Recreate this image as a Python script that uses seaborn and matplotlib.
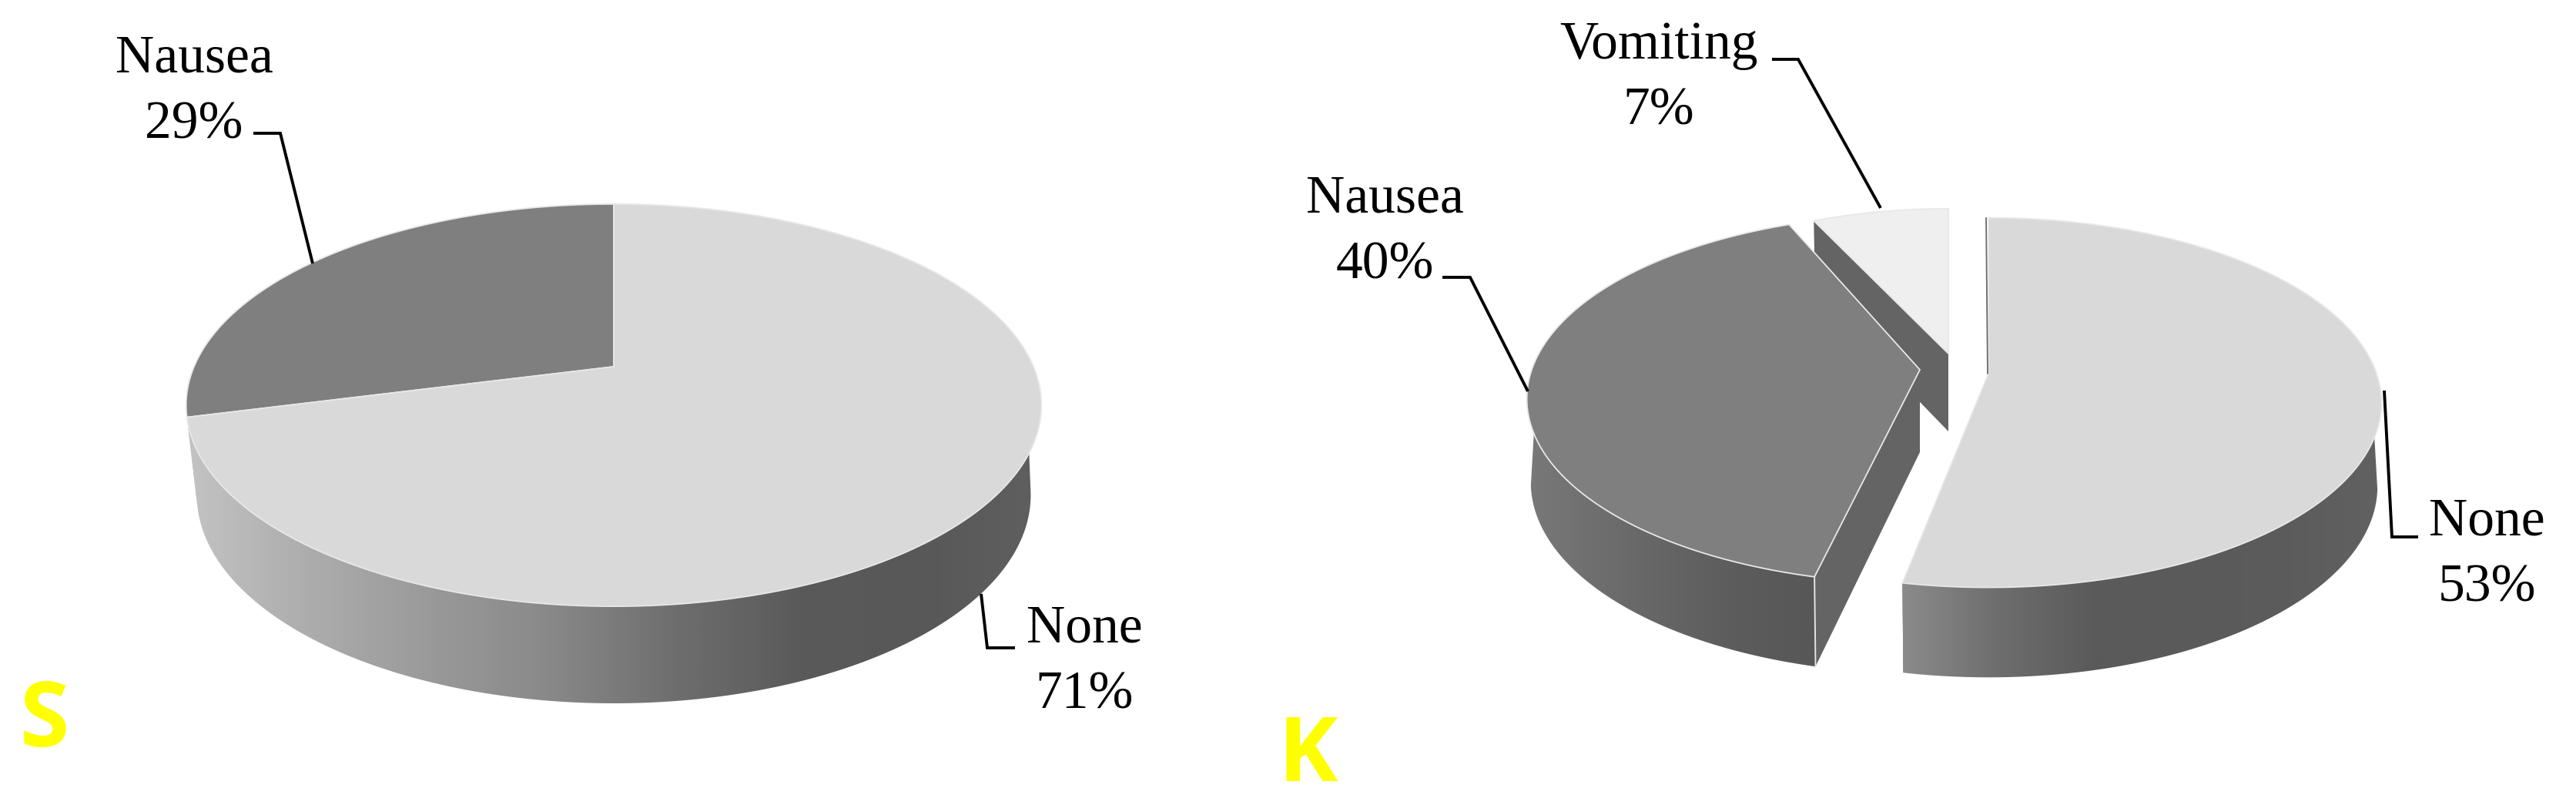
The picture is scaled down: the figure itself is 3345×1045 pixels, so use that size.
import numpy as np
import matplotlib
matplotlib.use('Agg')
import matplotlib.pyplot as plt
from matplotlib.patches import Polygon
import seaborn as sns

# data
labels_s = ['None', 'Nausea']
values_s = [71, 29]
labels_k = ['None', 'Nausea', 'Vomiting']
values_k = [53, 40, 7]

top_colors = {'None': '#d9d9d9', 'Nausea': '#7f7f7f', 'Vomiting': '#efefef'}
cut_color = '#646464'

sns.set_theme(style='white')
plt.rcParams['font.family'] = ['Liberation Serif', 'DejaVu Serif']

fig = plt.figure(figsize=(33.45, 10.45), dpi=100)
ax = fig.add_axes([0, 0, 1, 1])
ax.set_axis_off()


def rim(theta, cx, cy, sx, sy, k, fx=1.0, fy=1.0, d=0.0):
    # theta in degrees clockwise from 12 o'clock, simple perspective
    t = np.radians(theta)
    x, y = np.sin(t), -np.cos(t)
    w = 1 - k * y
    return np.column_stack([cx + fx * sx * x / w, cy + fy * sy * y / w + d])


def draw_slice(start, end, apex, sx, sy, k, depth, top, wall_cmap, wall_x, z, fx, cut=False):
    cx, cy = apex
    fy = 1.035
    angles = np.linspace(start, end, 300)
    top_pts = rim(angles, cx, cy, sx, sy, k)

    # faces left by the cut (only for the exploded pie)
    if cut:
        for a in (start, end):
            edge = rim(np.array([a]), cx, cy, sx, sy, k)[0]
            low = rim(np.array([a]), cx, cy, sx, sy, k, fx, fy, depth)[0]
            ax.add_patch(Polygon([[cx, cy], edge, low, [cx, cy + depth]], closed=True,
                                 fc=cut_color, ec='none', zorder=z))

    # outer wall, gradient clipped to the visible arc
    a0, a1 = max(start, 85), min(end, 275)
    if a1 > a0:
        up = rim(np.linspace(a0, a1, 300), cx, cy, sx, sy, k)
        # lower rim stops short of the sides so the silhouette runs straight
        low = rim(np.linspace(max(a0, 100), min(a1, 260), 300), cx, cy, sx, sy, k, fx, fy, depth)
        wall = Polygon(np.vstack([up, low[::-1]]), closed=True, fc='none', ec='none',
                       transform=ax.transData)
        ax.add_patch(wall)
        grad = np.linspace(0, 1, 512).reshape(1, -1)
        im = ax.imshow(grad, extent=[wall_x[0], wall_x[1], 1045, 0], cmap=wall_cmap,
                       aspect='auto', zorder=z + 0.1, vmin=0, vmax=1)
        im.set_clip_path(wall)
        if cut and start > 90:
            # pale seam at the front corner of the wall
            ax.plot([up[0, 0], low[0, 0]], [up[0, 1], low[0, 1]], color='#e4e4e4', lw=1.4,
                    zorder=z + 0.2)

    ax.add_patch(Polygon(np.vstack([[cx, cy], top_pts]), closed=True, fc=top, ec='#e8e8e8',
                         lw=1.3, joinstyle='miter', zorder=z + 0.3))
    if cut and start == 0:
        # sliver of the hidden cut face at 12 o'clock
        ax.plot([cx - 3, cx - 1], [top_pts[0, 1], cy], color='#6a6a6a', lw=1.3, zorder=z + 0.4)


def draw_label(text, pos, leader):
    ax.text(pos[0], pos[1], text, ha='center', va='center', fontsize=50, color='black',
            linespacing=1.47)
    lx, ly = zip(*leader)
    ax.plot(lx, ly, color='black', lw=2.8, solid_joinstyle='miter', solid_capstyle='butt', zorder=30)


# S pie
grey_s = sns.blend_palette(['#c4c4c4', '#adadad', '#9a9a9a', '#888888', '#6e6e6e', '#5a5a5a',
                            '#585858', '#606060'], as_cmap=True)
edges_s = 360 * np.cumsum([0] + values_s) / sum(values_s)
for i, name in reversed(list(enumerate(labels_s))):
    draw_slice(edges_s[i], edges_s[i + 1], (797, 476), 545, 251.5, 0.1916, 115,
               top_colors[name], grey_s, (235, 1360), 4 - i, 0.975)

# K pie, exploded; the slices get their own centres
apex_k = {'None': (2582, 485), 'Nausea': (2493, 480), 'Vomiting': (2530, 459)}
scale_k = {'None': 1.0, 'Nausea': 1.0, 'Vomiting': 0.93}
rot_k = {'None': 0, 'Nausea': 2.5, 'Vomiting': 0}
depth_k = {'None': 107, 'Nausea': 107, 'Vomiting': 101}
wall_k = {'None': ('#8c8c8c', '#6e6e6e', '#5a5a5a', '#5a5a5a', '#5c5c5c', '#626262'),
          'Nausea': ('#7a7a7a', '#6a6a6a', '#5c5c5c', '#555555'),
          'Vomiting': ('#646464', '#646464')}
wall_x_k = {'None': (2465, 3105), 'Nausea': (1970, 2400), 'Vomiting': (2357, 2530)}
order_k = {'Vomiting': 5, 'Nausea': 10, 'None': 12}
edges_k = 360 * np.cumsum([0] + values_k) / sum(values_k)
for i, name in enumerate(labels_k):
    s = scale_k[name]
    r = rot_k[name]
    draw_slice(edges_k[i] + r, edges_k[i + 1] + r, apex_k[name], 504 * s, 234 * s, 0.157, depth_k[name],
               top_colors[name], sns.blend_palette(wall_k[name], as_cmap=True), wall_x_k[name],
               order_k[name], 0.99, cut=True)

draw_label(f'{labels_s[1]}\n{values_s[1]}%', (252, 120), [(329, 173), (364, 173), (406, 342)])
draw_label(f'{labels_s[0]}\n{values_s[0]}%', (1408, 860), [(1318, 841), (1282, 841), (1274, 771)])
draw_label(f'{labels_k[2]}\n{values_k[2]}%', (2154, 102), [(2301, 77), (2335, 77), (2442, 270)])
draw_label(f'{labels_k[1]}\n{values_k[1]}%', (1798, 302), [(1873, 360), (1909, 360), (1984, 508)])
draw_label(f'{labels_k[0]}\n{values_k[0]}%', (3229, 721), [(3140, 697), (3106, 697), (3096, 507)])

ax.text(58, 938, 'S', ha='center', va='center', fontsize=84, fontweight='bold',
        family='Open Sans', color='#ffff00')
ax.text(1698, 983, 'K', ha='center', va='center', fontsize=84, fontweight='bold',
        family='Open Sans', color='#ffff00')

ax.set_xlim(0, 3345)
ax.set_ylim(1045, 0)
fig.savefig('out.png', dpi=100, facecolor='white')
